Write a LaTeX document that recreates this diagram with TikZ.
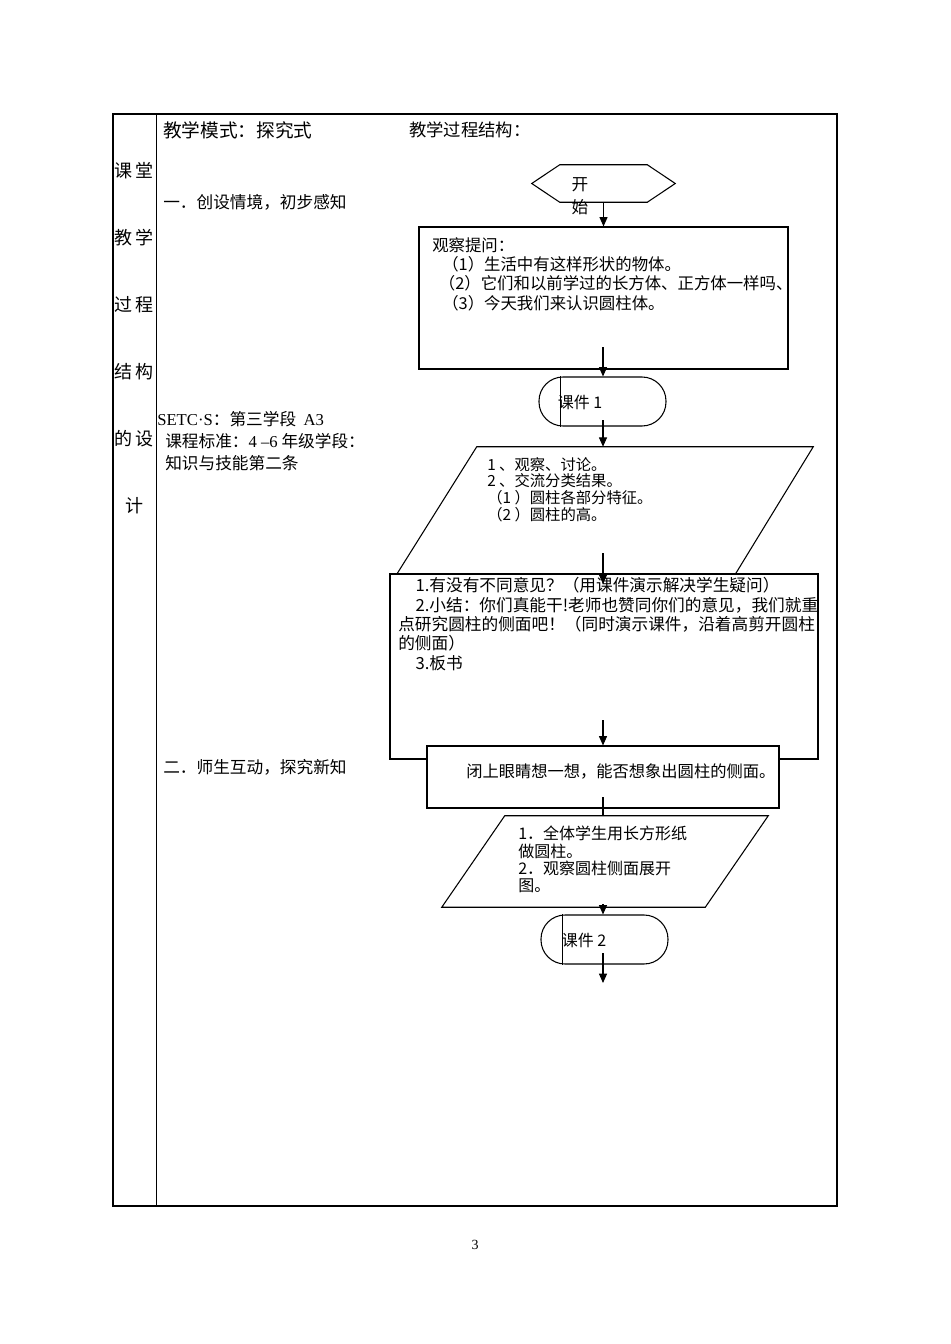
\documentclass[tikz,border=0pt]{standalone}
\usepackage{fontspec}
\setmainfont{Noto Sans CJK SC}
\newfontfamily\lserif{Liberation Serif}
\usetikzlibrary{calc}
\usetikzlibrary{arrows.meta}
\usetikzlibrary{fit}
\newcommand\fsz[2]{\fontsize{#1}{#2}\selectfont}

\begin{document}
\begin{tikzpicture}[x=0.75pt, y=-0.75pt,
    flow/.style={draw, fill=white, inner sep=0pt, line width=0.8pt},
    frame/.style={inner sep=0pt},
    arr/.style={-{Triangle[length=7pt,width=6pt]}, line width=0.8pt},
    lbl/.style={inner sep=0pt, align=left, anchor=north west}]
    \useasboundingbox (0,0) rectangle (950,1344);

    % table
    \draw[line width=1.3pt] (113,114) rectangle (837,1206);
    \draw[line width=0.75pt] (156,114) -- (156,1206);

    \node[font=\fsz{13.5}{15}] (col1) at (134,171) {课\hspace{3pt}堂};
    \node[font=\fsz{13.5}{15}] (col2) at (134,238) {教\hspace{3pt}学};
    \node[font=\fsz{13.5}{15}] (col3) at (134,305) {过\hspace{3pt}程};
    \node[font=\fsz{13.5}{15}] (col4) at (134,372) {结\hspace{3pt}构};
    \node[font=\fsz{13.5}{15}] (col5) at (134,439) {的\hspace{3pt}设};
    \node[font=\fsz{13.5}{15}] (col6) at (134,506) {计};

    \node[anchor=west, inner sep=0pt, font=\fsz{14}{16}] (moshi) at (163,130) {教学模式：探究式};
    \node[anchor=west, inner sep=0pt, font=\fsz{13}{16}] (jiegou) at (409,130) {教学过程结构：};
    \node[anchor=west, inner sep=0pt, font=\fsz{12.5}{15}] (part1) at (163,202) {一．创设情境，初步感知};
    \node[anchor=west, inner sep=0pt, font=\fsz{12.5}{15}] (part2) at (163,767) {二．师生互动，探究新知};
    \node[lbl, font=\fsz{12.5}{16.5}] (setc) at (157,411)
        {{\lserif SETC·S}：第三学段\ \ {\lserif A3}\\
         \hspace*{6pt}课程标准：{\lserif 4 –6} 年级学段：\\
         \hspace*{6pt}知识与技能第二条};

    % flow chart shapes
    \node[frame, fit={(532,165) (675,202)}] (kaishi) {};
    \draw[line width=0.8pt] (kaishi.west) -- ($(kaishi.north west)+(28,0)$)
        -- ($(kaishi.north east)+(-28,0)$) -- (kaishi.east)
        -- ($(kaishi.south east)+(-28,0)$) -- ($(kaishi.south west)+(28,0)$) -- cycle;

    \node[flow, fit={(419,227) (788,369)}] (tiwen) {};

    \node[flow, rounded corners=18pt, fit={(539,377) (666,426)}] (kj1) {};
    \draw[line width=0.8pt] ($(kj1.north west)+(22,0)$) -- ($(kj1.south west)+(22,0)$);

    \node[frame, fit={(397,447) (813,574)}] (taolun) {};
    \draw[line width=0.8pt, fill=white] ($(taolun.north west)+(80,0)$) -- (taolun.north east)
        -- ($(taolun.south east)+(-78,0)$) -- (taolun.south west) -- cycle;

    \node[flow, fit={(390,574) (818,759)}] (xiaojie) {};
    \node[flow, fit={(427,746) (779,808)}] (bizhe) {};

    \node[frame, fit={(442,816) (768,907)}] (zhi) {};
    \draw[line width=0.8pt, fill=white] ($(zhi.north west)+(63,0)$) -- (zhi.north east)
        -- ($(zhi.south east)+(-63,0)$) -- (zhi.south west) -- cycle;

    \node[flow, rounded corners=18pt, fit={(541,915) (668,964)}] (kj2) {};
    \draw[line width=0.8pt] ($(kj2.north west)+(22,0)$) -- ($(kj2.south west)+(22,0)$);

    % texts in the shapes
    \node[align=center, inner sep=0pt, font=\fsz{12.5}{17}] (ks-txt) at (580,196.5) {开\\始};
    \node[lbl, font=\fsz{12.3}{14.5}] (tw-txt) at (432,237)
        {观察提问：\\
         \hspace*{7.5pt}（1）生活中有这样形状的物体。\\
         \hspace*{5pt}（2）它们和以前学过的长方体、正方体一样吗、\\
         \hspace*{7.5pt}（3）今天我们来认识圆柱体。};
    \node[inner sep=0pt, font=\fsz{12}{14}] (kj1-txt) at (580,402) {课件 1};
    \node[lbl, font=\fsz{11.5}{12.5}] (tl-txt) at (487,457)
        {1\ 、观察、讨论。\\
         2\ 、交流分类结果。\\
         （1\ ）圆柱各部分特征。\\
         （2\ ）圆柱的高。};
    \node[lbl, font=\fsz{12.5}{14.6}] (xj-txt) at (398,577)
        {\hspace*{13pt}1.有没有不同意见？（用课件演示解决学生疑问）\\
         \hspace*{13pt}2.小结：你们真能干!老师也赞同你们的意见，我们就重\\
         点研究圆柱的侧面吧！（同时演示课件，沿着高剪开圆柱\\
         的侧面）\\
         \hspace*{13pt}3.板书};
    \node[anchor=west, inner sep=0pt, font=\fsz{12.2}{15}] (bz-txt) at (466,771) {闭上眼睛想一想，能否想象出圆柱的侧面。};
    \node[lbl, font=\fsz{12}{13}] (zhi-txt) at (518,826)
        {1．全体学生用长方形纸\\
         做圆柱。\\
         2．观察圆柱侧面展开\\
         图。};
    \node[inner sep=0pt, font=\fsz{12}{14}] (kj2-txt) at (584,940) {课件 2};

    % connectors
    \coordinate (tiwen-out) at (603,347);
    \coordinate (kj1-out) at (603,420);
    \coordinate (taolun-out) at (603,553);
    \coordinate (xiaojie-in) at (603,584);
    \coordinate (xiaojie-out) at (603,720);
    \coordinate (bizhe-out) at (603,797);
    \coordinate (zhi-out) at (603,904);
    \coordinate (kj2-out) at (603,953);
    \coordinate (end) at (603,983);

    \draw[arr] (kaishi.south) -- (tiwen.north);
    \draw[arr] (tiwen-out) -- (tiwen-out |- kj1.north);
    \draw[arr] (kj1-out) -- (kj1-out |- taolun.north);
    \draw[arr] (taolun-out) -- (xiaojie-in);
    \draw[arr] (xiaojie-out) -- (xiaojie-out |- bizhe.north);
    \draw[line width=0.8pt] (bizhe-out) -- (bizhe-out |- zhi.north);
    \draw[arr] (zhi-out) -- (zhi-out |- kj2.north);
    \draw[arr] (kj2-out) -- (end);

    \node[inner sep=0pt, font=\lserif\fsz{10.5}{12}] (page) at (475,1245) {3};
\end{tikzpicture}
\end{document}
